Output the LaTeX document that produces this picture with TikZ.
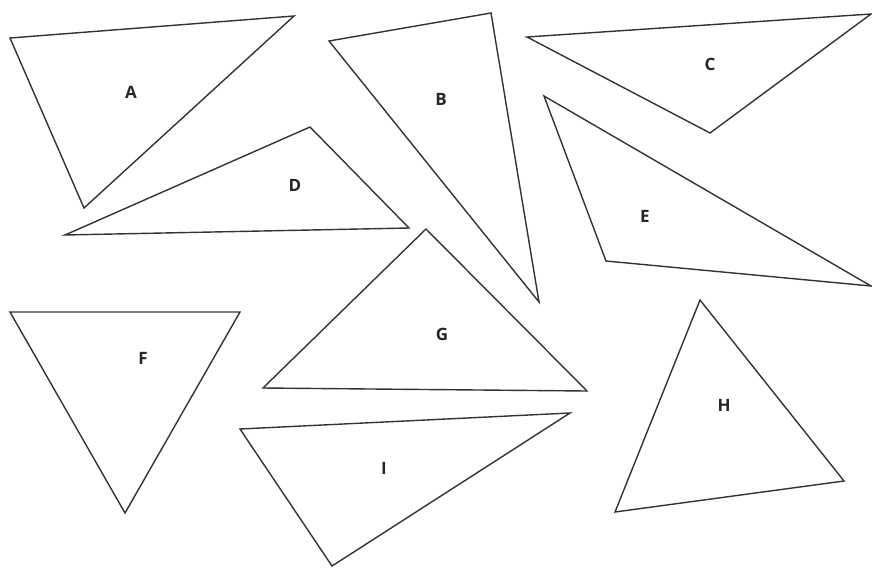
\documentclass[tikz,border=0pt]{standalone}
\usepackage{fontspec}
\setmainfont{Open Sans}
\begin{document}
\begin{tikzpicture}[x=1pt,y=-1pt,
  tri/.style={draw=black!80,line width=1.4pt,line join=miter},
  lab/.style={font=\fontsize{17}{17}\selectfont\bfseries,text=black!85,inner sep=0pt}]
\useasboundingbox (0,0) rectangle (872,568);
% A
\coordinate (a1) at (10,38); \coordinate (a2) at (294,16); \coordinate (a3) at (84,208);
\draw[tri] (a1) -- (a2) -- (a3) -- cycle;
\node[lab] (la) at (131,92) {A};
% B
\coordinate (b1) at (329,41); \coordinate (b2) at (491,13); \coordinate (b3) at (539,302);
\draw[tri] (b1) -- (b2) -- (b3) -- cycle;
\node[lab] (lb) at (441,99) {B};
% C
\coordinate (c1) at (527,37); \coordinate (c2) at (871,14); \coordinate (c3) at (710,133);
\draw[tri] (c1) -- (c2) -- (c3) -- cycle;
\node[lab] (lc) at (710,64) {C};
% D
\coordinate (d1) at (65,235); \coordinate (d2) at (310,127); \coordinate (d3) at (409,228);
\draw[tri] (d1) -- (d2) -- (d3) -- cycle;
\node[lab] (ld) at (295,185) {D};
% E
\coordinate (e1) at (544,96); \coordinate (e2) at (606,261); \coordinate (e3) at (871,286);
\draw[tri] (e1) -- (e2) -- (e3) -- cycle;
\node[lab] (le) at (645,216) {E};
% F
\coordinate (f1) at (10,312); \coordinate (f2) at (240,312); \coordinate (f3) at (125,513);
\draw[tri] (f1) -- (f2) -- (f3) -- cycle;
\node[lab] (lf) at (143,358) {F};
% G
\coordinate (g1) at (263,388); \coordinate (g2) at (426,229); \coordinate (g3) at (587,391);
\draw[tri] (g1) -- (g2) -- (g3) -- cycle;
\node[lab] (lg) at (442,334) {G};
% H
\coordinate (h1) at (700,300); \coordinate (h2) at (844,481); \coordinate (h3) at (615,512);
\draw[tri] (h1) -- (h2) -- (h3) -- cycle;
\node[lab] (lh) at (724,405) {H};
% I
\coordinate (i1) at (240,429); \coordinate (i2) at (570,413); \coordinate (i3) at (332,566);
\draw[tri] (i1) -- (i2) -- (i3) -- cycle;
\node[lab] (li) at (384,468) {I};
\end{tikzpicture}
\end{document}
